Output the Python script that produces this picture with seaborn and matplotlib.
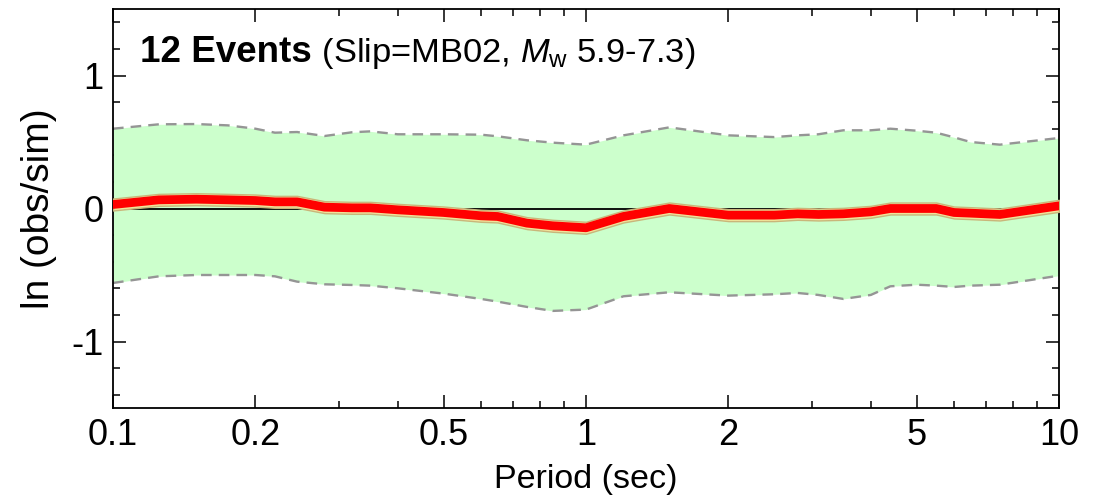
import numpy as np
import pandas as pd
import matplotlib
matplotlib.use("Agg")
import matplotlib.pyplot as plt
import seaborn as sns
from matplotlib.ticker import FixedLocator, NullFormatter, FixedFormatter

# ---- data ----
periods = [0.1, 0.125, 0.15, 0.175, 0.2, 0.22, 0.245, 0.28, 0.32, 0.35, 0.4, 0.5,
           0.6, 0.65, 0.75, 0.85, 1.0, 1.2, 1.5, 2.0, 2.5, 2.8, 3.1, 3.5, 4.0,
           4.4, 5.0, 5.5, 6.0, 6.5, 7.5, 10.0]
mean_bias = [0.03, 0.065, 0.07, 0.065, 0.06, 0.05, 0.05, 0.01, 0.005, 0.005, -0.01, -0.03,
             -0.055, -0.06, -0.11, -0.13, -0.145, -0.06, 0.0, -0.05, -0.05, -0.04, -0.045, -0.04, -0.025,
             0.0, 0.0, 0.0, -0.03, -0.035, -0.045, 0.02]
upper_sd = [0.60, 0.633, 0.635, 0.625, 0.60, 0.57, 0.575, 0.545, 0.573, 0.58, 0.558, 0.558,
            0.555, 0.543, 0.513, 0.495, 0.48, 0.55, 0.61, 0.55, 0.537, 0.55, 0.558, 0.588, 0.588,
            0.60, 0.585, 0.57, 0.535, 0.50, 0.48, 0.53]
lower_sd = [-0.56, -0.51, -0.50, -0.50, -0.50, -0.51, -0.55, -0.57, -0.575, -0.58, -0.60, -0.64,
            -0.68, -0.70, -0.74, -0.77, -0.76, -0.66, -0.63, -0.655, -0.645, -0.635, -0.65, -0.68, -0.65,
            -0.585, -0.573, -0.58, -0.59, -0.58, -0.573, -0.505]
ci_half = 0.045
x_major = [0.1, 0.2, 0.5, 1, 2, 5, 10]
x_major_labels = ["0.1", "0.2", "0.5", "1", "2", "5", "10"]
x_minor = [0.3, 0.4, 0.6, 0.7, 0.8, 0.9, 3, 4, 6, 7, 8, 9]
y_major = [-1, 0, 1]
y_minor = [-1.4, -1.2, -0.8, -0.6, -0.4, -0.2, 0.2, 0.4, 0.6, 0.8, 1.2, 1.4]
title_bold = "12 Events"
title_rest = r" (Slip=MB02, $M_\mathrm{w}$ 5.9-7.3)"

df = pd.DataFrame({"period": periods, "mean": mean_bias, "upper": upper_sd, "lower": lower_sd})

sns.set_style("ticks")
plt.rcParams["font.family"] = ["Liberation Sans", "DejaVu Sans"]
plt.rcParams["mathtext.fontset"] = "custom"
plt.rcParams["mathtext.rm"] = "Liberation Sans"
plt.rcParams["mathtext.it"] = "Liberation Sans:italic"
plt.rcParams["axes.unicode_minus"] = False
plt.rcParams["text.color"] = "black"
plt.rcParams["axes.labelcolor"] = "black"
plt.rcParams["xtick.color"] = "black"
plt.rcParams["ytick.color"] = "black"
plt.rcParams["axes.edgecolor"] = "black"

fig = plt.figure(figsize=(11.05, 4.99), dpi=100)
ax = fig.add_axes([113 / 1105, 1 - 408 / 499, (1059 - 113) / 1105, (408 - 9) / 499])

ax.fill_between(df["period"], df["lower"], df["upper"], color="#CCFFCC", lw=0, zorder=1)
sns.lineplot(data=df, x="period", y="upper", ax=ax, color="#959595", lw=1.7,
             linestyle=(0, (4.5, 3)), zorder=2)
sns.lineplot(data=df, x="period", y="lower", ax=ax, color="#959595", lw=1.7,
             linestyle=(0, (4.5, 3)), zorder=2)
ax.axhline(0, color="black", lw=1.3, zorder=3)
ax.fill_between(df["period"], df["mean"] - ci_half, df["mean"] + ci_half,
                facecolor="#F0E49A", edgecolor="#C9B67A", lw=1.0, zorder=4)
sns.lineplot(data=df, x="period", y="mean", ax=ax, color="#FF0000", lw=6.3, zorder=5)

ax.set_xscale("log")
ax.set_xlim(0.1, 10)
ax.set_ylim(-1.5, 1.5)
ax.xaxis.set_major_locator(FixedLocator(x_major))
ax.xaxis.set_major_formatter(FixedFormatter(x_major_labels))
ax.xaxis.set_minor_locator(FixedLocator(x_minor))
ax.xaxis.set_minor_formatter(NullFormatter())
ax.yaxis.set_major_locator(FixedLocator(y_major))
ax.yaxis.set_minor_locator(FixedLocator(y_minor))
ax.set_yticklabels([str(v) for v in y_major])

ax.tick_params(which="both", direction="in", top=True, right=True, width=1.1,
               labelsize=26, colors="black")
ax.tick_params(which="major", length=9.5, pad=7)
ax.tick_params(which="minor", length=5)
for s in ax.spines.values():
    s.set_linewidth(1.3)
    s.set_visible(True)
    s.set_color("black")

ax.set_xlabel("Period (sec)", fontsize=24.5, labelpad=8, color="black")
ax.set_ylabel("ln (obs/sim)", fontsize=28, labelpad=10, color="black")

t1 = ax.text(0.0285, 0.867, title_bold, transform=ax.transAxes, fontsize=26.5,
             fontweight="bold", va="baseline", ha="left", color="black")
fig.canvas.draw()
bb = t1.get_window_extent(renderer=fig.canvas.get_renderer())
x_ax = ax.transAxes.inverted().transform((bb.x1, 0))[0]
ax.text(x_ax, 0.867, title_rest, transform=ax.transAxes, fontsize=24.8,
        va="baseline", ha="left", color="black")

fig.savefig("out.png", dpi=100)
